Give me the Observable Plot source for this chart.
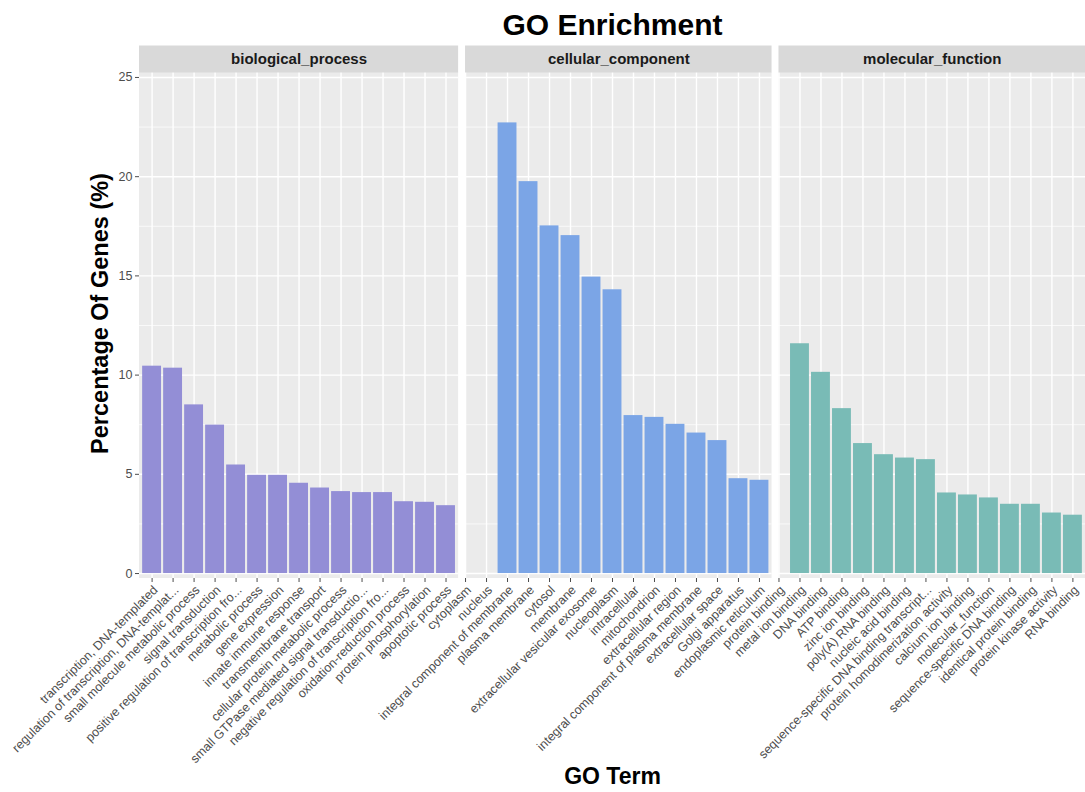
<!DOCTYPE html>
<html>
<head>
<meta charset="utf-8">
<script src="https://cdn.jsdelivr.net/npm/d3@7"></script>
<script src="https://cdn.jsdelivr.net/npm/@observablehq/plot@0.6"></script>
<style>
  html, body { margin: 0; padding: 0; background: #fff; overflow: hidden; }
  #chart svg { display: block; }
</style>
</head>
<body>
<div id="chart"></div>
<script>
// ---------------- data ----------------
const chartTitle = "GO Enrichment";
const xTitle = "GO Term";
const yTitle = "Percentage Of Genes (%)";

const facetNames = ["biological_process", "cellular_component", "molecular_function"];
const facetColors = ["#938ED6", "#7BA5E6", "#79BBB6"];

const bpTerms = [
  "transcription, DNA-templated",
  "regulation of transcription, DNA-templat...",
  "small molecule metabolic process",
  "signal transduction",
  "positive regulation of transcription fro...",
  "metabolic process",
  "gene expression",
  "innate immune response",
  "transmembrane transport",
  "cellular protein metabolic process",
  "small GTPase mediated signal transductio...",
  "negative regulation of transcription fro...",
  "oxidation-reduction process",
  "protein phosphorylation",
  "apoptotic process"
];
const bpValues = [10.45, 10.35, 8.5, 7.48, 5.47, 4.95, 4.95, 4.55, 4.31, 4.13, 4.08, 4.08, 3.62, 3.59, 3.42];

const ccTerms = [
  "cytoplasm",
  "nucleus",
  "integral component of membrane",
  "plasma membrane",
  "cytosol",
  "membrane",
  "extracellular vesicular exosome",
  "nucleoplasm",
  "intracellular",
  "mitochondrion",
  "extracellular region",
  "integral component of plasma membrane",
  "extracellular space",
  "Golgi apparatus",
  "endoplasmic reticulum"
];
// cytoplasm and nucleus lie above the 25 % limit: no bar drawn
const ccValues = [null, null, 22.71, 19.75, 17.52, 17.03, 14.94, 14.3, 7.96, 7.87, 7.52, 7.08, 6.7, 4.78, 4.7];

const mfTerms = [
  "protein binding",
  "metal ion binding",
  "DNA binding",
  "ATP binding",
  "zinc ion binding",
  "poly(A) RNA binding",
  "nucleic acid binding",
  "sequence-specific DNA binding transcript...",
  "protein homodimerization activity",
  "calcium ion binding",
  "molecular_function",
  "sequence-specific DNA binding",
  "identical protein binding",
  "protein kinase activity",
  "RNA binding"
];
// protein binding lies above the 25 % limit: no bar drawn
const mfValues = [null, 11.58, 10.14, 8.31, 6.55, 5.99, 5.82, 5.74, 4.06, 3.96, 3.81, 3.49, 3.49, 3.05, 2.94];

const yTicks = [0, 5, 10, 15, 20, 25];
const yMinorTicks = [2.5, 7.5, 12.5, 17.5, 22.5];
const yLimits = [0, 25];

// ---------------- layout helpers (ggplot-like facets with free x space) ----------------
const EXPAND = 0.6;     // discrete axis expansion
const GAP = 0.33;       // spacing between panels, in x units
const HALF_BAR = 0.45;  // bar width 0.9
const yPad = (yLimits[1] - yLimits[0]) * 0.01;
const yDomain = [yLimits[0] - yPad, yLimits[1] + yPad];

const groups = [
  {terms: bpTerms, values: bpValues},
  {terms: ccTerms, values: ccValues},
  {terms: mfTerms, values: mfValues}
];

const rows = [];
const panels = [];
groups.forEach((grp, k) => {
  const lo = k === 0 ? 1 - EXPAND : panels[k - 1].hi + GAP;
  const first = grp.values[0] != null ? lo + EXPAND : lo;
  grp.terms.forEach((t, i) => rows.push({
    facet: facetNames[k], term: t, value: grp.values[i], g: first + i, color: facetColors[k]
  }));
  const hi = first + grp.terms.length - 1 + EXPAND;
  panels.push({name: facetNames[k], lo, hi, mid: (lo + hi) / 2});
});

const gridMajor = panels.flatMap(p => yTicks.map(y => ({y, lo: p.lo, hi: p.hi})));
const gridMinor = panels.flatMap(p => yMinorTicks.map(y => ({y, lo: p.lo, hi: p.hi})));
const bars = rows.filter(d => d.value != null);

const W = 1085, H = 792;
const M = {top: 72, right: 0, bottom: 214, left: 139};
const STRIP = 27;

const chart = Plot.plot({
  width: W,
  height: H,
  marginTop: M.top,
  marginRight: M.right,
  marginBottom: M.bottom,
  marginLeft: M.left,
  style: {fontFamily: "'Liberation Sans', Arial, Helvetica, sans-serif", fontSize: "12.5px", color: "#4D4D4D", background: "#fff"},
  x: {type: "linear", domain: [panels[0].lo, panels[panels.length - 1].hi], ticks: rows.map(d => d.g), tickFormat: () => "", tickSize: 4, label: null},
  y: {domain: yDomain, ticks: yTicks, tickSize: 4, tickPadding: 3, label: null},
  color: {type: "identity"},
  marks: [
    // panel backgrounds
    Plot.rect(panels, {x1: "lo", x2: "hi", fill: "#EBEBEB"}),
    // grid
    Plot.ruleY(gridMinor, {y: "y", x1: "lo", x2: "hi", stroke: "#fff", strokeWidth: 0.7}),
    Plot.ruleY(gridMajor, {y: "y", x1: "lo", x2: "hi", stroke: "#fff", strokeWidth: 1.4}),
    Plot.ruleX(rows, {x: "g", stroke: "#fff", strokeWidth: 1.4}),
    // bars
    Plot.rect(bars, {x1: d => d.g - HALF_BAR, x2: d => d.g + HALF_BAR, y1: 0, y2: "value", fill: "color"}),
    // facet strips
    Plot.ruleY(panels, {y: yDomain[1], x1: "lo", x2: "hi", dy: -STRIP / 2, stroke: "#D9D9D9", strokeWidth: STRIP}),
    Plot.text(panels, {x: "mid", frameAnchor: "top", lineAnchor: "middle", dy: -STRIP / 2, text: "name", fontSize: 15, fontWeight: "bold", fill: "#1A1A1A"}),
    // x tick labels
    Plot.text(rows, {x: "g", frameAnchor: "bottom", text: "term", rotate: -45, textAnchor: "end", lineAnchor: "top", dy: 6, fontSize: 12.5, fill: "#4D4D4D"}),
    // titles
    Plot.text([chartTitle], {text: d => d, frameAnchor: "top", lineAnchor: "middle", textAnchor: "middle", dy: -47, fontSize: 30, fontWeight: "bold", fill: "#000"}),
    Plot.text([yTitle], {text: d => d, frameAnchor: "left", lineAnchor: "middle", textAnchor: "middle", dx: -39, dy: -12, rotate: -90, fontSize: 23.5, fontWeight: "bold", fill: "#000"}),
    Plot.text([xTitle], {text: d => d, frameAnchor: "bottom", lineAnchor: "middle", textAnchor: "middle", dy: 198, fontSize: 23, fontWeight: "bold", fill: "#000"})
  ]
});

document.getElementById("chart").appendChild(chart);
</script>
</body>
</html>
